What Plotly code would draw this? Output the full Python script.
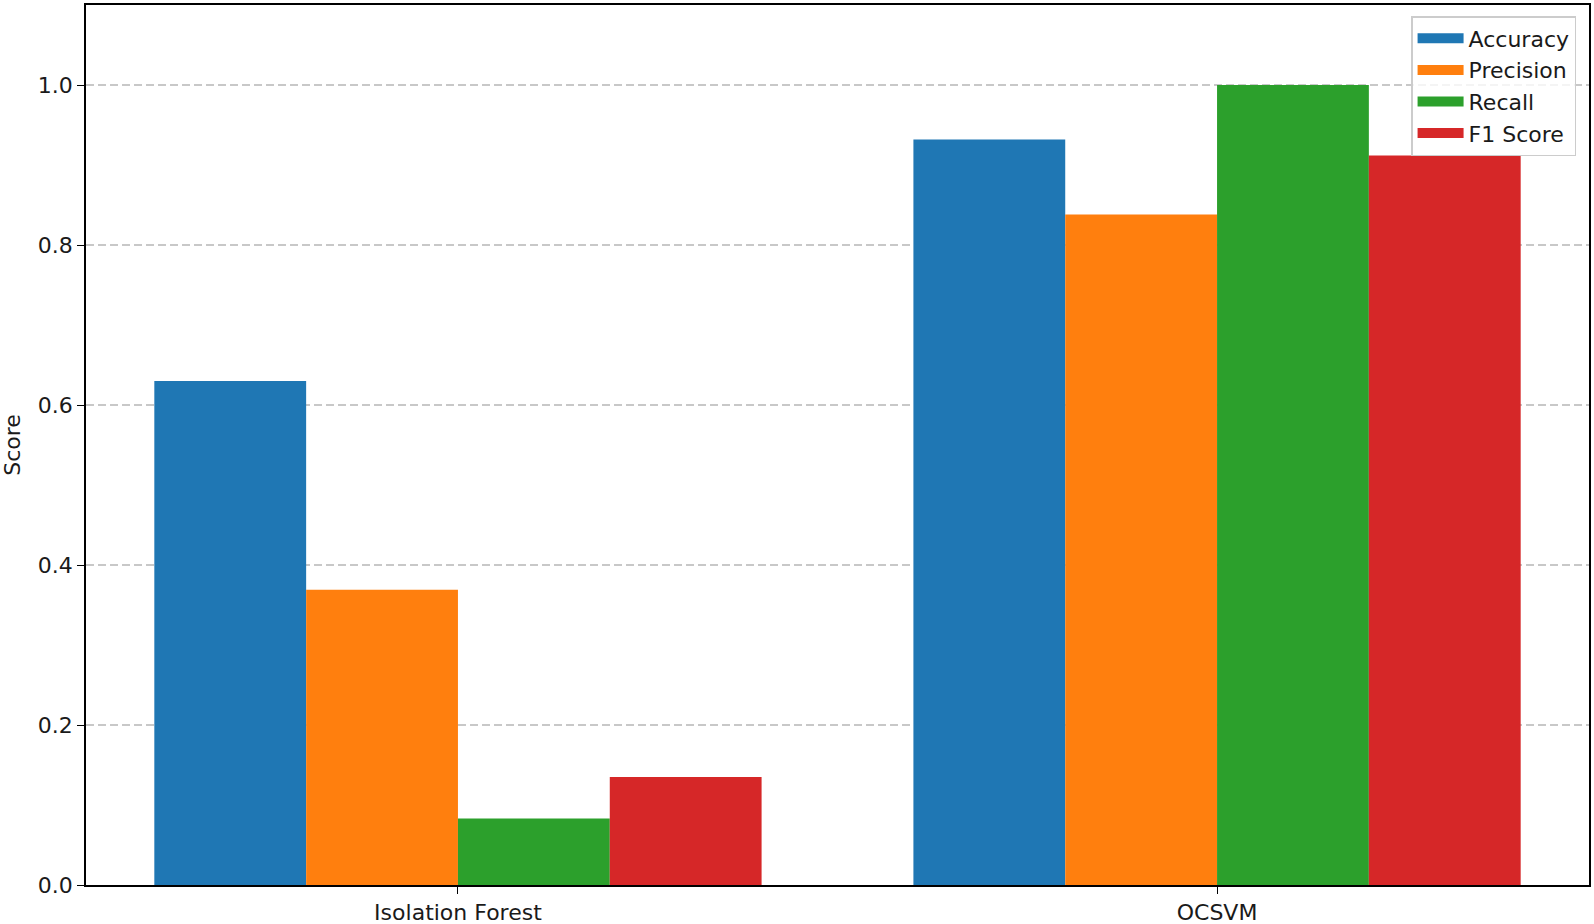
import plotly.graph_objects as go

models = ["Isolation Forest", "OCSVM"]
metrics = ["Accuracy", "Precision", "Recall", "F1 Score"]
accuracy = [0.63, 0.932]
precision = [0.369, 0.838]
recall = [0.083, 1.0]
f1_score = [0.135, 0.912]
series = [accuracy, precision, recall, f1_score]
colors = ["#1f77b4", "#ff7f0e", "#2ca02c", "#d62728"]
y_ticks = [0.0, 0.2, 0.4, 0.6, 0.8, 1.0]

fig = go.Figure()
for name, vals, c in zip(metrics, series, colors):
    fig.add_trace(go.Bar(x=models, y=vals, name=name, legendgroup=name, showlegend=False,
                         marker=dict(color=c, line=dict(width=0))))
# legend entries drawn as wide patches (matplotlib style)
for name, c in zip(metrics, colors):
    fig.add_trace(go.Scatter(x=[None], y=[None], mode="lines", name=name, legendgroup=name,
                             line=dict(color=c, width=15), hoverinfo="skip"))

font = dict(family="DejaVu Sans", size=22, color="#1a1a1a")
fig.update_layout(
    template="none",
    width=1594, height=924,
    margin=dict(l=86, r=5, t=5, b=39),
    barmode="group", bargap=0.2, bargroupgap=0,
    paper_bgcolor="white", plot_bgcolor="white",
    font=font,
    legend=dict(x=0.9914, y=0.9875, xanchor="right", yanchor="top",
                bgcolor="rgba(255,255,255,0.8)", bordercolor="#cccccc", borderwidth=1.5,
                font=font, traceorder="normal", itemwidth=46, tracegroupgap=0),
    showlegend=True,
)
fig.update_xaxes(type="category", range=[-0.49, 1.49], showline=True, linecolor="black", linewidth=1.5,
                 mirror=True, ticks="outside", ticklen=7, tickcolor="black", showgrid=False,
                 zeroline=False, tickfont=font, automargin=False)
fig.update_yaxes(range=[0, 1.1], tickvals=y_ticks, tickformat=".1f", showline=True, linecolor="black",
                 linewidth=1.5, mirror=True, ticks="outside", ticklen=7, tickcolor="black",
                 showgrid=True, gridcolor="#c8c8c8", griddash="8px,4px", gridwidth=1.5, zeroline=False,
                 title=dict(text="Score", font=font, standoff=12), tickfont=font, automargin=False)
fig.write_html("out.html", config={"displayModeBar": False},
               post_script="document.body.style.margin='0';document.body.style.overflow='hidden';")
